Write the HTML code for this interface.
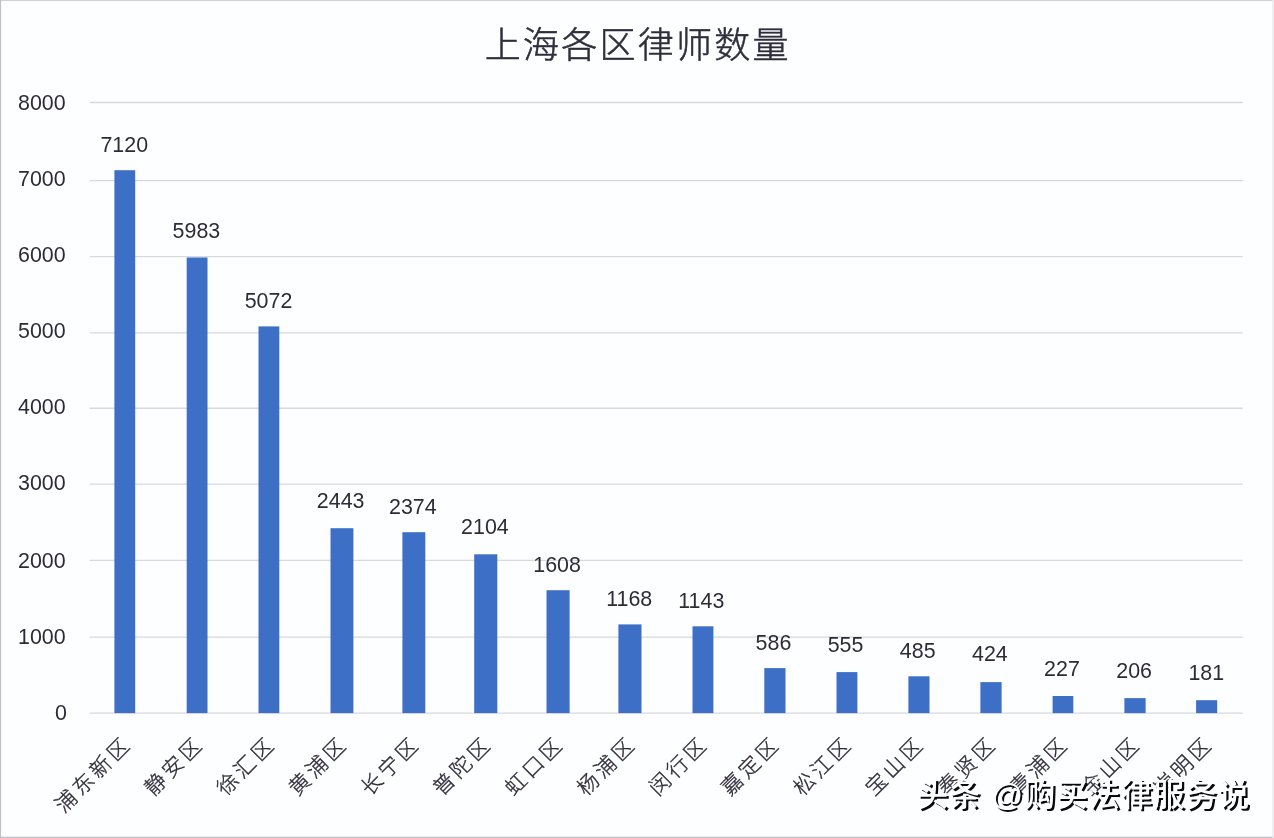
<!DOCTYPE html>
<html lang="zh-CN">
<head>
<meta charset="utf-8">
<title>上海各区律师数量</title>
<style>
html,body{margin:0;padding:0;background:#fdfeff;}
body{width:1274px;height:838px;overflow:hidden;position:relative;}
svg{display:block;position:absolute;left:0;top:0;}
text{font-family:"Liberation Sans","Noto Sans CJK SC",sans-serif;fill:#2f2a38;}
.cjk{font-family:"Liberation Sans","Noto Sans CJK SC",sans-serif;font-weight:300;}
.num{font-family:"Liberation Sans","Noto Sans CJK SC",sans-serif;}
</style>
</head>
<body>
<svg width="1274" height="838" viewBox="0 0 1274 838">
<rect x="0" y="0" width="1274" height="838" fill="#fdfeff"/>

<g>
<g stroke="#d6d9de" stroke-width="1.4">
<line x1="89.7" y1="713.10" x2="1242.8" y2="713.10"/>
<line x1="89.7" y1="637.10" x2="1242.8" y2="637.10"/>
<line x1="89.7" y1="560.40" x2="1242.8" y2="560.40"/>
<line x1="89.7" y1="484.10" x2="1242.8" y2="484.10"/>
<line x1="89.7" y1="408.30" x2="1242.8" y2="408.30"/>
<line x1="89.7" y1="332.90" x2="1242.8" y2="332.90"/>
<line x1="89.7" y1="256.60" x2="1242.8" y2="256.60"/>
<line x1="89.7" y1="180.60" x2="1242.8" y2="180.60"/>
<line x1="89.7" y1="102.50" x2="1242.8" y2="102.50"/>
</g>
<g class="num" font-size="21.4" text-anchor="end">
<text class="num" x="67.0" y="720.20">0</text>
<text class="num" x="65.6" y="644.20">1000</text>
<text class="num" x="65.6" y="568.00">2000</text>
<text class="num" x="65.6" y="489.70">3000</text>
<text class="num" x="65.6" y="413.50">4000</text>
<text class="num" x="65.6" y="337.80">5000</text>
<text class="num" x="65.6" y="261.60">6000</text>
<text class="num" x="65.6" y="185.70">7000</text>
<text class="num" x="65.6" y="109.70">8000</text>
</g>
<g fill="#3d6fc6">
<rect x="114.4" y="170.2" width="20.8" height="542.9"/>
<rect x="186.7" y="257.5" width="20.8" height="455.6"/>
<rect x="258.5" y="326.4" width="20.8" height="386.7"/>
<rect x="330.5" y="528.2" width="22.9" height="184.9"/>
<rect x="402.4" y="532.2" width="22.9" height="180.9"/>
<rect x="474.2" y="554.3" width="23.1" height="158.8"/>
<rect x="546.5" y="590.2" width="23.1" height="122.9"/>
<rect x="618.4" y="624.4" width="23.1" height="88.7"/>
<rect x="692.5" y="626.3" width="20.9" height="86.8"/>
<rect x="764.3" y="668.1" width="21.2" height="45.0"/>
<rect x="836.5" y="672.1" width="20.9" height="41.0"/>
<rect x="908.4" y="676.3" width="21.1" height="36.8"/>
<rect x="980.4" y="682.1" width="21.2" height="31.0"/>
<rect x="1052.6" y="696.0" width="20.7" height="17.1"/>
<rect x="1124.4" y="698.1" width="21.2" height="15.0"/>
<rect x="1196.1" y="700.2" width="21.1" height="12.9"/>
</g>
<g font-size="21.4" text-anchor="middle">
<text class="num" x="124.27" y="151.60">7120</text>
<text class="num" x="196.40" y="237.90">5983</text>
<text class="num" x="268.53" y="307.60">5072</text>
<text class="num" x="340.66" y="507.70">2443</text>
<text class="num" x="412.79" y="513.60">2374</text>
<text class="num" x="484.92" y="533.60">2104</text>
<text class="num" x="557.05" y="571.90">1608</text>
<text class="num" x="629.18" y="605.60">1168</text>
<text class="num" x="701.32" y="607.90">1143</text>
<text class="num" x="773.45" y="649.70">586</text>
<text class="num" x="845.58" y="651.60">555</text>
<text class="num" x="917.71" y="657.70">485</text>
<text class="num" x="989.84" y="661.40">424</text>
<text class="num" x="1061.97" y="675.60">227</text>
<text class="num" x="1134.10" y="677.90">206</text>
<text class="num" x="1206.23" y="680.40">181</text>
</g>
<g font-size="21" text-anchor="end" letter-spacing="3.4" style="stroke:#2f2a38;stroke-width:0.35px">
<text class="cjk" transform="translate(133.07 745.10) rotate(-45)" x="0" y="0">浦东新区</text>
<text class="cjk" transform="translate(205.16 745.10) rotate(-45)" x="0" y="0">静安区</text>
<text class="cjk" transform="translate(277.25 745.10) rotate(-45)" x="0" y="0">徐汇区</text>
<text class="cjk" transform="translate(349.34 745.10) rotate(-45)" x="0" y="0">黄浦区</text>
<text class="cjk" transform="translate(421.43 745.10) rotate(-45)" x="0" y="0">长宁区</text>
<text class="cjk" transform="translate(493.52 745.10) rotate(-45)" x="0" y="0">普陀区</text>
<text class="cjk" transform="translate(565.61 745.10) rotate(-45)" x="0" y="0">虹口区</text>
<text class="cjk" transform="translate(637.70 745.10) rotate(-45)" x="0" y="0">杨浦区</text>
<text class="cjk" transform="translate(709.79 745.10) rotate(-45)" x="0" y="0">闵行区</text>
<text class="cjk" transform="translate(781.88 745.10) rotate(-45)" x="0" y="0">嘉定区</text>
<text class="cjk" transform="translate(853.97 745.10) rotate(-45)" x="0" y="0">松江区</text>
<text class="cjk" transform="translate(926.06 745.10) rotate(-45)" x="0" y="0">宝山区</text>
<text class="cjk" transform="translate(998.15 745.10) rotate(-45)" x="0" y="0">奉贤区</text>
<text class="cjk" transform="translate(1070.24 745.10) rotate(-45)" x="0" y="0">青浦区</text>
<text class="cjk" transform="translate(1142.33 745.10) rotate(-45)" x="0" y="0">金山区</text>
<text class="cjk" transform="translate(1214.42 745.10) rotate(-45)" x="0" y="0">崇明区</text>
</g>
<text class="cjk" x="637.8" y="58" font-size="36" letter-spacing="2.25" text-anchor="middle" style="fill:#2e2e3d;stroke:#2e2e3d;stroke-width:0.55px">上海各区律师数量</text>
<text x="916.8" y="806.3" font-size="31.3" letter-spacing="1.02" style="font-family:'Liberation Sans','Noto Sans CJK SC',sans-serif;font-weight:500;fill:#fdfeff;text-shadow:2.2px 2.2px 0 #0a0a0a">头条 @购买法律服务说</text>
</g>
<rect x="0" y="0" width="1274" height="1.1" fill="#ced4d4"/>
<rect x="0" y="0" width="1.1" height="838" fill="#c0bfc6"/>
<rect x="0" y="836.7" width="1274" height="1.3" fill="#c2c3c9"/>
<rect x="1272.4" y="0" width="1.6" height="838" fill="#eee7ec"/>
</svg>
</body>
</html>
